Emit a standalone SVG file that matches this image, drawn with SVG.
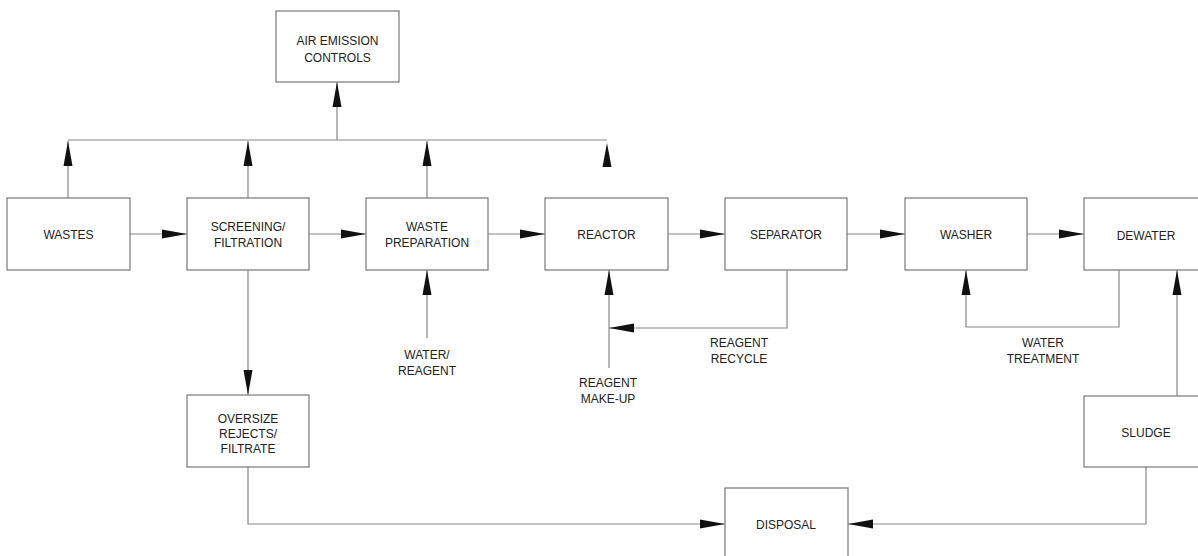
<svg xmlns="http://www.w3.org/2000/svg" width="1198" height="556" viewBox="0 0 1198 556">
<style>
.box{fill:#fff;stroke:#777;stroke-width:1.2}
.t{font-family:"Liberation Sans",Arial,sans-serif;font-size:12px;fill:#222;text-anchor:middle}
.c{fill:none;stroke:#888;stroke-width:1.2}
.ah{fill:#111}
</style>
<defs>
<marker id="arr" markerUnits="userSpaceOnUse" markerWidth="26" markerHeight="10" refX="25" refY="5" orient="auto">
<path d="M0,0.5 L25,5 L0,9.5 Z" class="ah"/>
</marker>
</defs>
<rect width="1198" height="556" fill="#fff"/>
<g id="connectors">
<path class="c" d="M68,198 V141" marker-end="url(#arr)"/>
<path class="c" d="M248,198 V141" marker-end="url(#arr)"/>
<path class="c" d="M427,198 V141" marker-end="url(#arr)"/>
<path class="c" d="M68,140 H607"/>
<polygon class="ah" points="607,143 611.5,167 602.5,167"/>
<path class="c" d="M337,140 V82" marker-end="url(#arr)"/>
<path class="c" d="M130,234 H187" marker-end="url(#arr)"/>
<path class="c" d="M309,234 H366" marker-end="url(#arr)"/>
<path class="c" d="M488,234 H545" marker-end="url(#arr)"/>
<path class="c" d="M668,234 H725" marker-end="url(#arr)"/>
<path class="c" d="M847,234 H905" marker-end="url(#arr)"/>
<path class="c" d="M1027,234 H1084" marker-end="url(#arr)"/>
<path class="c" d="M427,338 V270" marker-end="url(#arr)"/>
<path class="c" d="M609,368 V270" marker-end="url(#arr)"/>
<path class="c" d="M787,270 V328 H609" marker-end="url(#arr)"/>
<path class="c" d="M1119,270 V327 H966 V270" marker-end="url(#arr)"/>
<path class="c" d="M1177,396 V270" marker-end="url(#arr)"/>
<path class="c" d="M248,270 V395" marker-end="url(#arr)"/>
<path class="c" d="M248,467 V524 H725" marker-end="url(#arr)"/>
<path class="c" d="M1146,467 V524 H848" marker-end="url(#arr)"/>
</g>
<g id="air"><rect class="box" x="276" y="11" width="123" height="71"/><text class="t" x="337.5" y="45">AIR EMISSION</text><text class="t" x="337.5" y="62">CONTROLS</text></g>
<g id="wastes"><rect class="box" x="7" y="198" width="123" height="72"/><text class="t" x="68.5" y="239">WASTES</text></g>
<g id="screening"><rect class="box" x="187" y="198" width="122" height="72"/><text class="t" x="248" y="231">SCREENING/</text><text class="t" x="248" y="247">FILTRATION</text></g>
<g id="prep"><rect class="box" x="366" y="198" width="122" height="72"/><text class="t" x="427" y="231">WASTE</text><text class="t" x="427" y="247">PREPARATION</text></g>
<g id="reactor"><rect class="box" x="545" y="198" width="123" height="72"/><text class="t" x="606.5" y="239">REACTOR</text></g>
<g id="separator"><rect class="box" x="725" y="198" width="122" height="72"/><text class="t" x="786" y="239">SEPARATOR</text></g>
<g id="washer"><rect class="box" x="905" y="198" width="122" height="72"/><text class="t" x="966" y="239">WASHER</text></g>
<g id="dewater"><rect class="box" x="1084" y="198" width="123" height="72"/><text class="t" x="1146" y="240">DEWATER</text></g>
<g id="oversize"><rect class="box" x="187" y="395" width="122" height="72"/><text class="t" x="248" y="423">OVERSIZE</text><text class="t" x="248" y="438">REJECTS/</text><text class="t" x="248" y="453">FILTRATE</text></g>
<g id="sludge"><rect class="box" x="1084" y="396" width="123" height="71"/><text class="t" x="1146" y="437">SLUDGE</text></g>
<g id="disposal"><rect class="box" x="725" y="488" width="123" height="80"/><text class="t" x="786" y="529">DISPOSAL</text></g>
<g id="labels">
<text class="t" x="427" y="359">WATER/</text><text class="t" x="427" y="375">REAGENT</text>
<text class="t" x="608" y="387">REAGENT</text><text class="t" x="608" y="403">MAKE-UP</text>
<text class="t" x="739" y="347">REAGENT</text><text class="t" x="739" y="363">RECYCLE</text>
<text class="t" x="1043" y="347">WATER</text><text class="t" x="1043" y="363">TREATMENT</text>
</g>
</svg>
